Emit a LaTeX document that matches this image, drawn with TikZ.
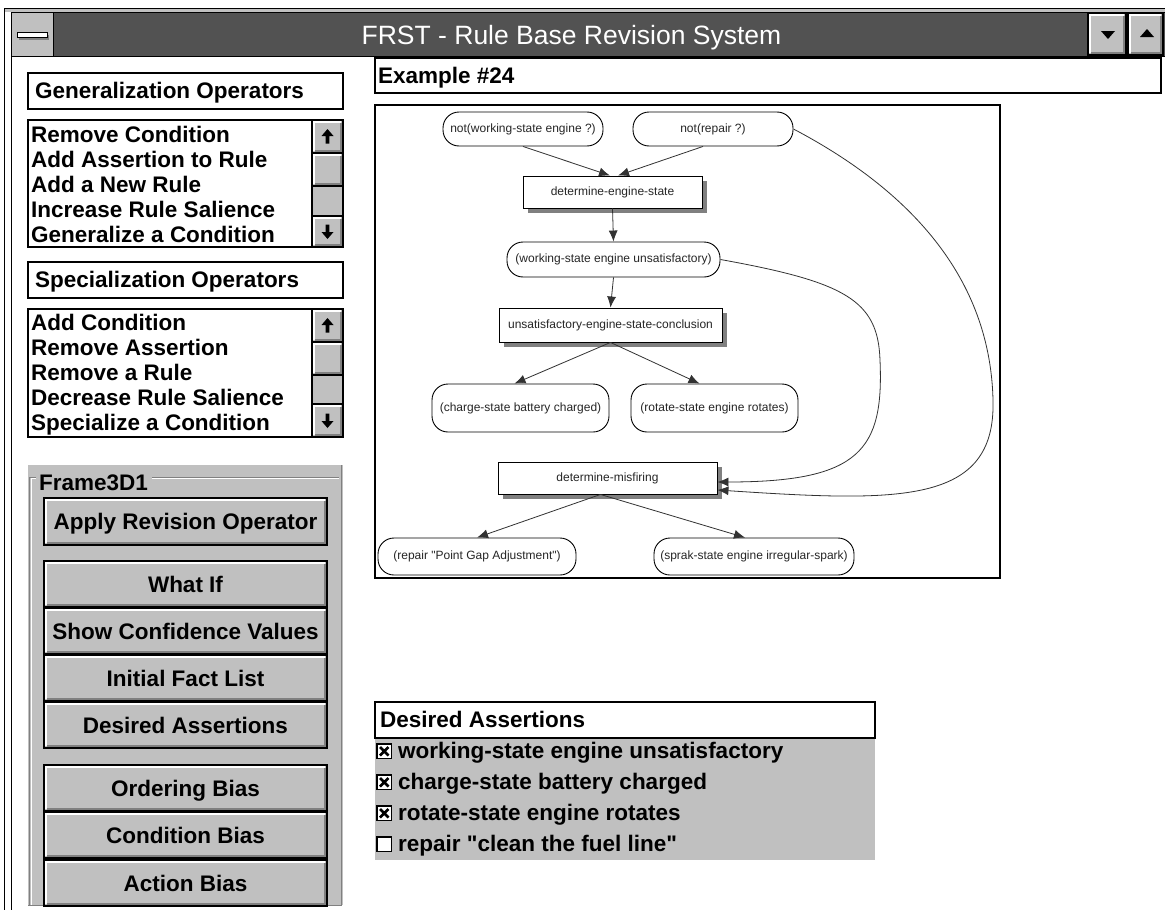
\documentclass[tikz,border=0pt]{standalone}
\usepackage{fontspec}
\setmainfont{Liberation Sans}
% a family without TeX ligature mapping, so that " stays a straight quote
\newfontfamily\uisans{Liberation Sans}
\usetikzlibrary{arrows.meta,shadows}

\definecolor{wingray}{RGB}{192,192,192}
\definecolor{windark}{RGB}{128,128,128}
\definecolor{titlebar}{RGB}{82,82,82}
\definecolor{edgecol}{RGB}{50,50,50}

% raised 3D box: x1 y1 x2 y2
\newcommand\winbevel[4]{%
  \fill[wingray] (#1,#2) rectangle (#3,#4);
  \draw[white,line width=2pt] ({#1+2},{#4-2.5}) -- ({#1+2},{#2+2}) -- ({#3-2.5},{#2+2});
  \draw[windark,line width=2pt] ({#1+2.5},{#4-2}) -- ({#3-2},{#4-2}) -- ({#3-2},{#2+2.5});
  \draw[black,line width=1.2pt] (#1,#2) rectangle (#3,#4);
}
% push button with heavier lower-right edge
\newcommand\winbutton[4]{%
  \winbevel{#1}{#2}{#3}{#4}
  \draw[black,line width=2pt] (#1,{#4-0.5}) -- ({#3-0.5},{#4-0.5}) -- ({#3-0.5},#2);
}
% scroll arrows centred at x y
\newcommand\uparrowglyph[2]{%
  \pgfmathsetmacro\gx{#1}\pgfmathsetmacro\gy{#2}%
  \fill[black] ({\gx-6},{\gy-0.5}) -- (\gx,{\gy-7.5}) -- ({\gx+6},{\gy-0.5}) -- ({\gx+1.8},{\gy-0.5})
    -- ({\gx+1.8},{\gy+7}) -- ({\gx-1.8},{\gy+7}) -- ({\gx-1.8},{\gy-0.5}) -- cycle;
}
\newcommand\downarrowglyph[2]{%
  \pgfmathsetmacro\gx{#1}\pgfmathsetmacro\gy{#2}%
  \fill[black] ({\gx-6},{\gy+0.5}) -- (\gx,{\gy+7.5}) -- ({\gx+6},{\gy+0.5}) -- ({\gx+1.8},{\gy+0.5})
    -- ({\gx+1.8},{\gy-7}) -- ({\gx-1.8},{\gy-7}) -- ({\gx-1.8},{\gy+0.5}) -- cycle;
}
% vertical scroll bar: x1 x2, top, end of up button, end of thumb, start of down button, bottom
\newcommand\vscroll[7]{%
  \fill[wingray] (#1,#3) rectangle (#2,#7);
  \winbevel{#1}{#3}{#2}{#4}
  \winbevel{#1}{#4}{#2}{#5}
  \winbevel{#1}{#6}{#2}{#7}
  \uparrowglyph{(#1+#2)/2}{(#3+#4)/2}
  \downarrowglyph{(#1+#2)/2}{(#6+#7)/2}
  \draw[black,line width=1.2pt] (#1,#3) -- (#1,#7);
}
% check box with top-left corner x y
\newcommand\ckbox[2]{%
  \fill[white] (#1,#2) rectangle ({#1+16},{#2+16});
  \draw[black,line width=1.2pt] ({#1+0.6},{#2+0.6}) rectangle ({#1+15.4},{#2+15.4});
  \draw[black,line width=1.6pt] ({#1+0.8},{#2+15.5}) -- ({#1+0.8},{#2+0.8}) -- ({#1+15.5},{#2+0.8});
}
\newcommand\ckmark[2]{%
  \draw[black,line width=2.8pt] ({#1+4},{#2+4}) -- ({#1+12.5},{#2+12.5})
    ({#1+12.5},{#2+4}) -- ({#1+4},{#2+12.5});
}

\tikzset{
  uitext/.style={font=\uisans\fontsize{22.5}{24}\selectfont\bfseries, inner sep=0pt, anchor=base west},
  btntext/.style={font=\uisans\fontsize{22.5}{24}\selectfont\bfseries, inner sep=0pt, anchor=base},
  gfont/.style={font=\uisans\fontsize{12}{13}\selectfont, text=black!85},
  gterm/.style={gfont, draw=black, line width=0.9pt, rounded corners=16pt, inner sep=0pt, fill=white},
  grule/.style={gfont, draw=black, line width=0.9pt, inner sep=0pt, fill=white,
    general shadow={fill=windark, shadow xshift=5pt, shadow yshift=-5pt}},
  garrow/.style={draw=edgecol, line width=0.8pt, -{Latex[length=11pt,width=9pt]}},
}

\begin{document}
\begin{tikzpicture}[x=1pt,y=-1pt]
\useasboundingbox (0,0) rectangle (1165,910);
\fill[white] (0,0) rectangle (1165,910);

% ---------- window frame and caption bar ----------
\fill[wingray] (4,8) rectangle (1165,12);
\draw[black,line width=1pt] (4,910) -- (4,8) -- (1165,8);
\fill[titlebar] (11,12) rectangle (1165,56);
\draw[black,line width=1pt] (11,910) -- (11,12) -- (1165,12);
\draw[black,line width=1.3pt] (11,56.5) -- (1165,56.5);
% system menu box
\fill[wingray] (11.5,12.5) rectangle (53,56);
\draw[black,line width=1pt] (53.5,12) -- (53.5,56);
\fill[windark] (19,35) rectangle (49,40);
\filldraw[fill=white,draw=black,line width=1pt] (17,32) rectangle (47,37);
% caption
\node[font=\uisans\fontsize{26.5}{28}\selectfont, text=white, inner sep=0pt, anchor=base]
  (caption) at (571.5,44) {FRST - Rule Base Revision System};
% minimize / maximize buttons
\winbevel{1088}{13}{1126}{55}
\winbevel{1128}{13}{1163}{55}
\fill[black] (1101,31) -- (1115,31) -- (1108,39) -- cycle;
\fill[black] (1140,37) -- (1154,37) -- (1147,29) -- cycle;

% ---------- generalization operators ----------
\draw[black,line width=1.2pt] (28,73) rectangle (343,109);
\node[uitext] (genlbl) at (35,98) {Generalization Operators};
\fill[white] (28,120) rectangle (343,247);
\vscroll{312}{343}{120}{153}{186}{216}{247}
\draw[black,line width=1.2pt] (28,120) rectangle (343,247);
\node[uitext] (g1) at (31,142) {Remove Condition};
\node[uitext] (g2) at (31,167) {Add Assertion to Rule};
\node[uitext] (g3) at (31,192) {Add a New Rule};
\node[uitext] (g4) at (31,217) {Increase Rule Salience};
\node[uitext] (g5) at (31,242) {Generalize a Condition};

% ---------- specialization operators ----------
\draw[black,line width=1.2pt] (28,262) rectangle (343,298);
\node[uitext] (speclbl) at (35,287) {Specialization Operators};
\fill[white] (28,309) rectangle (343,437);
\vscroll{312}{343}{309}{342}{375}{404}{437}
\draw[black,line width=1.2pt] (28,309) rectangle (343,437);
\node[uitext] (s1) at (31,330) {Add Condition};
\node[uitext] (s2) at (31,355) {Remove Assertion};
\node[uitext] (s3) at (31,380) {Remove a Rule};
\node[uitext] (s4) at (31,405) {Decrease Rule Salience};
\node[uitext] (s5) at (31,430) {Specialize a Condition};

% ---------- command frame ----------
\fill[wingray] (28,465) rectangle (343,905);
\draw[windark,line width=1pt] (341.5,465) -- (341.5,905) -- (28,905);
\draw[white,line width=1pt] (31,905) -- (31,478) -- (36,478);
\draw[white,line width=1pt] (152,478) -- (339,478);
\draw[windark,line width=0.8pt] (29.8,905) -- (29.8,477) -- (36,477);
\draw[windark,line width=0.8pt] (152,477) -- (339,477);
\node[uitext] (framelbl) at (39,490) {Frame3D1};
\winbutton{44}{498}{327}{545}
\node[btntext] (b1) at (185.5,529) {Apply Revision Operator};
\winbutton{44}{561}{327}{607}
\node[btntext] (b2) at (185.5,592) {What If};
\winbutton{44}{608}{327}{654}
\node[btntext] (b3) at (185.5,639) {Show Confidence Values};
\winbutton{44}{655}{327}{701}
\node[btntext] (b4) at (185.5,686) {Initial Fact List};
\winbutton{44}{702}{327}{748}
\node[btntext] (b5) at (185.5,733) {Desired Assertions};
\winbutton{44}{765}{327}{811}
\node[btntext] (b6) at (185.5,796) {Ordering Bias};
\winbutton{44}{812}{327}{858}
\node[btntext] (b7) at (185.5,843) {Condition Bias};
\winbutton{44}{860}{327}{906}
\node[btntext] (b8) at (185.5,891) {Action Bias};

% ---------- example heading ----------
\draw[black,line width=1.2pt] (375,58) rectangle (1161,93);
\node[uitext] (exlbl) at (378,83) {Example \#24};

% ---------- rule graph ----------
\draw[black,line width=1.2pt] (375,105) rectangle (1000,578);

\node[gterm, minimum width=160pt, minimum height=34pt] (nw) at (523,129) {not(working-state engine ?)};
\node[gterm, minimum width=160pt, minimum height=34pt] (nr) at (713,129) {not(repair ?)};
\node[grule, minimum width=179pt, minimum height=32pt] (des) at (612.5,192) {determine-engine-state};
\node[gterm, minimum width=213pt, minimum height=35pt] (ws) at (613.5,259.5) {(working-state engine unsatisfactory)};
\node[grule, minimum width=223pt, minimum height=34pt] (unsat) at (610.5,325) {unsatisfactory-engine-state-conclusion};
\node[gterm, minimum width=177pt, minimum height=48pt] (charge) at (520.5,408) {(charge-state battery charged)};
\node[gterm, minimum width=167pt, minimum height=48pt] (rotate) at (714.5,408) {(rotate-state engine rotates)};
\node[grule, minimum width=219pt, minimum height=32pt] (mis) at (607.5,478) {determine-misfiring};
\node[gterm, minimum width=198pt, minimum height=37pt] (repair) at (477,556.5) {(repair "Point Gap Adjustment")};
\node[gterm, minimum width=200pt, minimum height=37pt] (sprak) at (754,556.5) {(sprak-state engine irregular-spark)};

\draw[garrow] (nw.south) -- ([xshift=-2.5pt]des.north);
\draw[garrow] ([xshift=-10pt]nr.south) -- ([xshift=5.5pt]des.north);
\draw[garrow] (des.south) -- (ws.north);
\draw[garrow] (ws.south) -- (unsat.north);
\draw[garrow] (unsat.south) -- ([xshift=-6pt]charge.north);
\draw[garrow] (unsat.south) -- ([xshift=-15pt]rotate.north);
\draw[garrow] ([xshift=-7pt]mis.south) -- (repair.north);
\draw[garrow] ([xshift=-7pt]mis.south) -- ([xshift=-9pt]sprak.north);
\draw[garrow] (ws.east) .. controls (845,282) and (878,300) .. (880,360)
  .. controls (884,450) and (860,482) .. ([yshift=-4pt]mis.east);
\draw[garrow] (nr.east) .. controls (900,185) and (990,270) .. (993,400)
  .. controls (996,505) and (900,502) .. ([yshift=-12pt]mis.east);

% ---------- desired assertions ----------
\fill[wingray] (375,738) rectangle (875,860);
\draw[black,line width=1.2pt] (375,702) rectangle (875,738);
\node[uitext] (dalbl) at (380,727) {Desired Assertions};
\ckbox{376}{743}\ckmark{376}{743}
\node[uitext] (d1) at (398,758) {working-state engine unsatisfactory};
\ckbox{376}{774}\ckmark{376}{774}
\node[uitext] (d2) at (398,789) {charge-state battery charged};
\ckbox{376}{805}\ckmark{376}{805}
\node[uitext] (d3) at (398,820) {rotate-state engine rotates};
\ckbox{376}{836}
\node[uitext] (d4) at (398,851) {repair "clean the fuel line"};
\end{tikzpicture}
\end{document}
